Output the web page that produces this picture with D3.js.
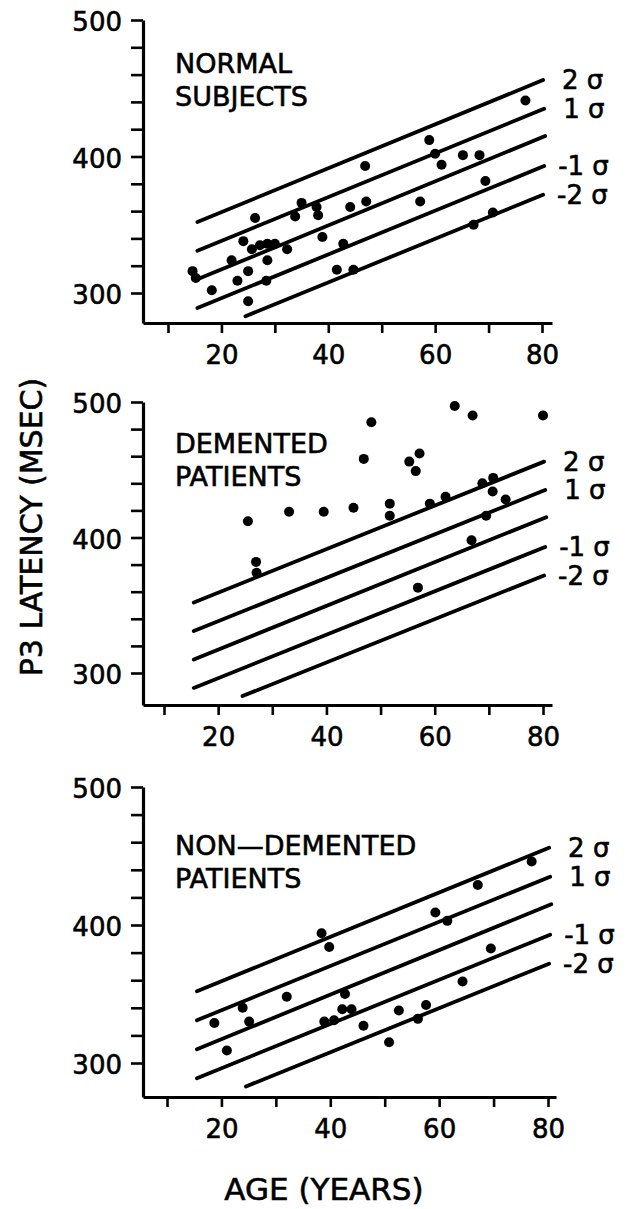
<!DOCTYPE html>
<html>
<head>
<meta charset="utf-8">
<script src="https://cdn.jsdelivr.net/npm/d3@7"></script>
<style>
  body { margin: 0; background: #fff; }
  svg { display: block; }
  text { font-family: "DejaVu Sans", sans-serif; fill: #000; stroke: #000; stroke-width: 0.6px; }
</style>
</head>
<body>
<div class="chartHolder"></div>
<script>
// tick values
const ageTicks = [10, 20, 30, 40, 50, 60, 70, 80]
const ageLabels = [20, 40, 60, 80]
const latencyTicks = [300, 320, 340, 360, 380, 400, 420, 440, 460, 480, 500]
const latencyLabels = [300, 400, 500]

// normal-limit lines (same in every panel)
const sigmaNames = ['2 σ', '1 σ', '', '-1 σ', '-2 σ']
const sigmaStartAge = [15.5, 15.5, 15.5, 15.5, 24.5]
const sigmaStartP3 = [352, 331, 310, 289, 283]
const sigmaEndAge = [80.2, 80.4, 80.6, 80.4, 80.2]
const sigmaEndP3 = [456, 435, 415, 393, 372]

// panel titles
const panelTitles = [['NORMAL', 'SUBJECTS'], ['DEMENTED', 'PATIENTS'], ['NON—DEMENTED', 'PATIENTS']]

// normal subjects
const normalAge = [14.6, 15.2, 18.2, 21.9, 23.0, 24.1, 25.0, 25.0, 25.7, 26.3, 27.2, 28.6, 28.6, 28.4, 30.0, 32.3, 33.8, 35.0, 37.8, 38.1, 38.9, 41.6, 42.8, 44.1, 44.7, 46.9, 47.1, 57.2, 58.9, 60.0, 61.2, 65.2, 68.3, 69.4, 67.2, 70.8, 76.9]
const normalP3 = [316, 311, 302, 324, 309, 338, 316, 294, 332, 355, 335, 336, 324, 309, 336, 332, 356, 366, 363, 357, 341, 317, 336, 363, 317, 393, 367, 367, 412, 402, 394, 401, 401, 382, 350, 359, 441]

// demented patients
const dementedAge = [25.5, 27.0, 27.1, 33.1, 39.5, 45.0, 46.9, 48.3, 51.7, 51.7, 55.3, 57.2, 56.5, 56.9, 59.1, 62.0, 63.7, 67.0, 66.8, 68.8, 70.8, 70.7, 69.5, 73.1, 80.0]
const dementedP3 = [412, 382, 374, 419, 419, 422, 458, 485, 425, 416, 456, 462, 449, 363, 425, 430, 497, 490, 398, 440, 444, 434, 416, 428, 490]

// non-demented patients
const nonDementedAge = [18.7, 21.0, 23.9, 25.1, 32.0, 38.4, 39.8, 38.9, 40.7, 42.2, 43.9, 42.7, 46.1, 50.8, 52.6, 56.1, 57.6, 64.3, 69.5, 59.3, 61.5, 67.1, 77.0]
const nonDementedP3 = [329, 309, 340, 330, 348, 394, 384, 330, 331, 339, 339, 350, 327, 315, 338, 332, 342, 359, 383, 409, 403, 429, 446]

const width = 639
const height = 1209

// pixel layout of each panel
var panels = [
  { ages: normalAge, p3: normalP3, y500: 20, y300: 293, axisY: 323, x10: 168, x80: 542, xEnd: 552, titleY: 73 },
  { ages: dementedAge, p3: dementedP3, y500: 402, y300: 673, axisY: 705, x10: 164, x80: 543, xEnd: 552, titleY: 453 },
  { ages: nonDementedAge, p3: nonDementedP3, y500: 787, y300: 1063, axisY: 1097, x10: 167, x80: 548, xEnd: 556, titleY: 855 }
]
var axisX = 143

var svg = d3.select('.chartHolder').append('svg')
  .attr('width', width)
  .attr('height', height)

panels.forEach(function(p, k) {
  var xScale = d3.scaleLinear().domain([10, 80]).range([p.x10, p.x80])
  var yScale = d3.scaleLinear().domain([300, 500]).range([p.y300, p.y500])
  xScale.domain([xScale.invert(axisX), xScale.invert(p.xEnd)]).range([axisX, p.xEnd])
  yScale.domain([yScale.invert(p.axisY), 500]).range([p.axisY, p.y500])

  var g = svg.append('g')

  var xAxis = d3.axisBottom(xScale)
    .tickValues(ageTicks)
    .tickSize(10)
    .tickSizeOuter(0)
    .tickPadding(13)
    .tickFormat(d => ageLabels.includes(d) ? d : '')
  var yAxis = d3.axisLeft(yScale)
    .tickValues(latencyTicks)
    .tickSize(12)
    .tickSizeOuter(0)
    .tickPadding(9)
    .tickFormat(d => latencyLabels.includes(d) ? d : '')

  var xg = g.append('g')
    .attr('transform', `translate(0,${p.axisY})`)
    .call(xAxis)
  var yg = g.append('g')
    .attr('transform', `translate(${axisX},0)`)
    .call(yAxis)

  ;[xg, yg].forEach(function(ax) {
    ax.select('.domain').attr('stroke', '#000').attr('stroke-width', 3.2)
    ax.selectAll('.tick line').attr('stroke', '#000').attr('stroke-width', 2.6)
    ax.selectAll('.tick text')
      .attr('font-size', 26)
      .style('font-family', '"DejaVu Sans", sans-serif')
      .attr('fill', '#000')
  })
  xg.selectAll('.tick text').attr('dy', '0.71em')
  yg.selectAll('.tick text').attr('dy', '0.42em')

  // normal limit lines
  sigmaNames.forEach(function(name, i) {
    g.append('line')
      .attr('x1', xScale(sigmaStartAge[i]))
      .attr('y1', yScale(sigmaStartP3[i]))
      .attr('x2', xScale(sigmaEndAge[i]))
      .attr('y2', yScale(sigmaEndP3[i]))
      .attr('stroke', '#000')
      .attr('stroke-width', 3.8)
      .attr('stroke-linecap', 'round')
    if (name) {
      g.append('text')
        .attr('x', xScale(sigmaEndAge[i]) + (name[0] === '-' ? 14 : 19))
        .attr('y', yScale(sigmaEndP3[i]))
        .attr('dy', '0.36em')
        .attr('font-size', 26)
        .text(name)
    }
  })

  // points
  g.selectAll('circle')
    .data(p.ages)
    .enter()
    .append('circle')
    .attr('cx', (d, i) => xScale(d))
    .attr('cy', (d, i) => yScale(p.p3[i]))
    .attr('r', 5)
    .attr('fill', '#000')

  // title
  g.append('text')
    .attr('x', 175)
    .attr('y', p.titleY)
    .attr('font-size', 27)
    .text(panelTitles[k][0])
  g.append('text')
    .attr('x', 175)
    .attr('y', p.titleY + 33)
    .attr('font-size', 27)
    .text(panelTitles[k][1])
})

svg.append('text')
  .attr('transform', 'translate(42,527) rotate(-90)')
  .attr('text-anchor', 'middle')
  .attr('font-size', 30)
  .text('P3 LATENCY (MSEC)')

svg.append('text')
  .attr('x', 324)
  .attr('y', 1200)
  .attr('text-anchor', 'middle')
  .attr('font-size', 31)
  .text('AGE (YEARS)')
</script>
</body>
</html>
